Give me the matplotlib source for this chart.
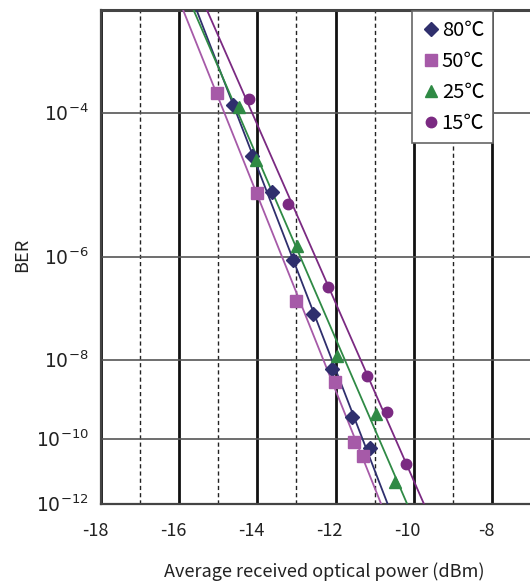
import numpy as np
import matplotlib
matplotlib.use('Agg')
import matplotlib.pyplot as plt
from matplotlib.lines import Line2D
from matplotlib.transforms import ScaledTranslation

plt.rcParams['font.family'] = ['Noto Sans CJK JP', 'DejaVu Sans']
plt.rcParams['axes.unicode_minus'] = False
plt.rcParams['mathtext.fontset'] = 'dejavusans'

labels = ['80℃', '50℃', '25℃', '15℃']
colors = ['#2f2f6d', '#a65aa8', '#2f8a45', '#7b2a82']
markers = ['D', 's', '^', 'o']
msizes = [7, 8, 8.5, 7.5]

# received optical power (dBm) and BER exponent E (BER = 10**-E)
p80 = [-14.63, -14.13, -13.63, -13.10, -12.58, -12.08, -11.59, -11.12]
e80 = [3.92, 4.52, 5.00, 6.05, 7.05, 8.21, 9.39, 10.25]
p50 = [-15.02, -14.01, -13.01, -12.01, -11.52, -11.30]
e50 = [3.79, 5.02, 6.79, 8.51, 10.07, 10.48]
p25 = [-14.48, -14.04, -12.99, -11.97, -10.97, -10.48]
e25 = [3.94, 4.57, 5.82, 7.92, 9.32, 11.29]
p15 = [-14.21, -13.21, -12.20, -11.20, -10.69, -10.21]
e15 = [3.85, 5.17, 6.53, 8.37, 9.26, 10.73]

powers = [p80, p50, p25, p15]
exps = [e80, e50, e25, e15]

xmajor = [-18, -16, -14, -12, -10, -8]
xminor = [-17, -15, -13, -11, -9]
yexp = [4, 6, 8, 10, 12]


def fwd(y):
    y = np.clip(np.asarray(y, dtype=float), 1e-300, 1 - 1e-12)
    return -np.log10(-np.log10(y))


def inv(t):
    return 10.0 ** (-(10.0 ** (-np.asarray(t, dtype=float))))


W, H = 530, 582
fig = plt.figure(figsize=(W / 100, H / 100), dpi=100)
ax = fig.add_axes([101 / W, 1 - 504 / H, 430 / W, 494 / H])
ax.set_yscale('function', functions=(fwd, inv))
ax.set_xlim(-18, -7)
ax.set_ylim(1e-12, 1e-3)

ax.set_xticks(xmajor)
ax.set_xticks(xminor, minor=True)
ax.set_xticklabels([str(v) for v in xmajor])
ax.set_yticks([10.0 ** -e for e in yexp])
ax.set_yticklabels([r'$10^{-%d}$' % e for e in yexp])
ax.set_yticks([], minor=True)
ax.tick_params(which='both', length=0)
ax.tick_params(axis='x', pad=13, labelsize=13, colors='#222')
ax.tick_params(axis='y', pad=9, labelsize=13.5, colors='#222')

ax.grid(which='major', axis='x', color='#111', lw=2.0, zorder=1)
ax.grid(which='minor', axis='x', color='#222', lw=1.0, ls=(0, (3, 2.2)), zorder=1)
ax.grid(which='major', axis='y', color='#555', lw=1.2, zorder=1)

for sp in ['left', 'bottom', 'top']:
    ax.spines[sp].set_color('#444')
    ax.spines[sp].set_linewidth(1.6)
ax.spines['top'].set_linewidth(2.2)
ax.spines['right'].set_visible(False)

xs = np.linspace(-18, -7, 400)
for p, e, c, m, ms in zip(powers, exps, colors, markers, msizes):
    b, a = np.polyfit(p, np.log10(e), 1)
    ax.plot(xs, 10.0 ** (-(10.0 ** (a + b * xs))), color=c, lw=1.3, zorder=3)
    ax.plot(p, [10.0 ** -v for v in e], ls='none', marker=m, color=c,
            ms=ms, mec=c, zorder=4)

for lab in ax.get_xticklabels():
    lab.set_transform(lab.get_transform() + ScaledTranslation(-0.06, 0, fig.dpi_scale_trans))

handles = [Line2D([], [], ls='none', marker=m, color=c, ms=ms)
           for c, m, ms in zip(colors, markers, msizes)]
leg = ax.legend(handles, labels, loc='upper left',
                bbox_to_anchor=(411.5 / W, 1 - 11 / H), bbox_transform=fig.transFigure,
                fontsize=14.5, frameon=True, fancybox=False, framealpha=1,
                edgecolor='#666', borderpad=0.45, borderaxespad=0,
                handlelength=1.0, handletextpad=0.05, labelspacing=0.5)
leg.get_frame().set_linewidth(1.2)
leg.set_zorder(10)

ax.set_ylabel('BER', fontsize=13, color='#222')
ax.yaxis.set_label_coords(-(101 - 22) / 430, (504 - 255) / 494)
ax.yaxis.label.set_va('center')
ax.set_xlabel('Average received optical power (dBm)', fontsize=13, color='#222')
ax.xaxis.set_label_coords((324 - 101) / 430, -(572 - 504) / 494)
ax.xaxis.label.set_va('center')

fig.savefig('out.png', dpi=100)
